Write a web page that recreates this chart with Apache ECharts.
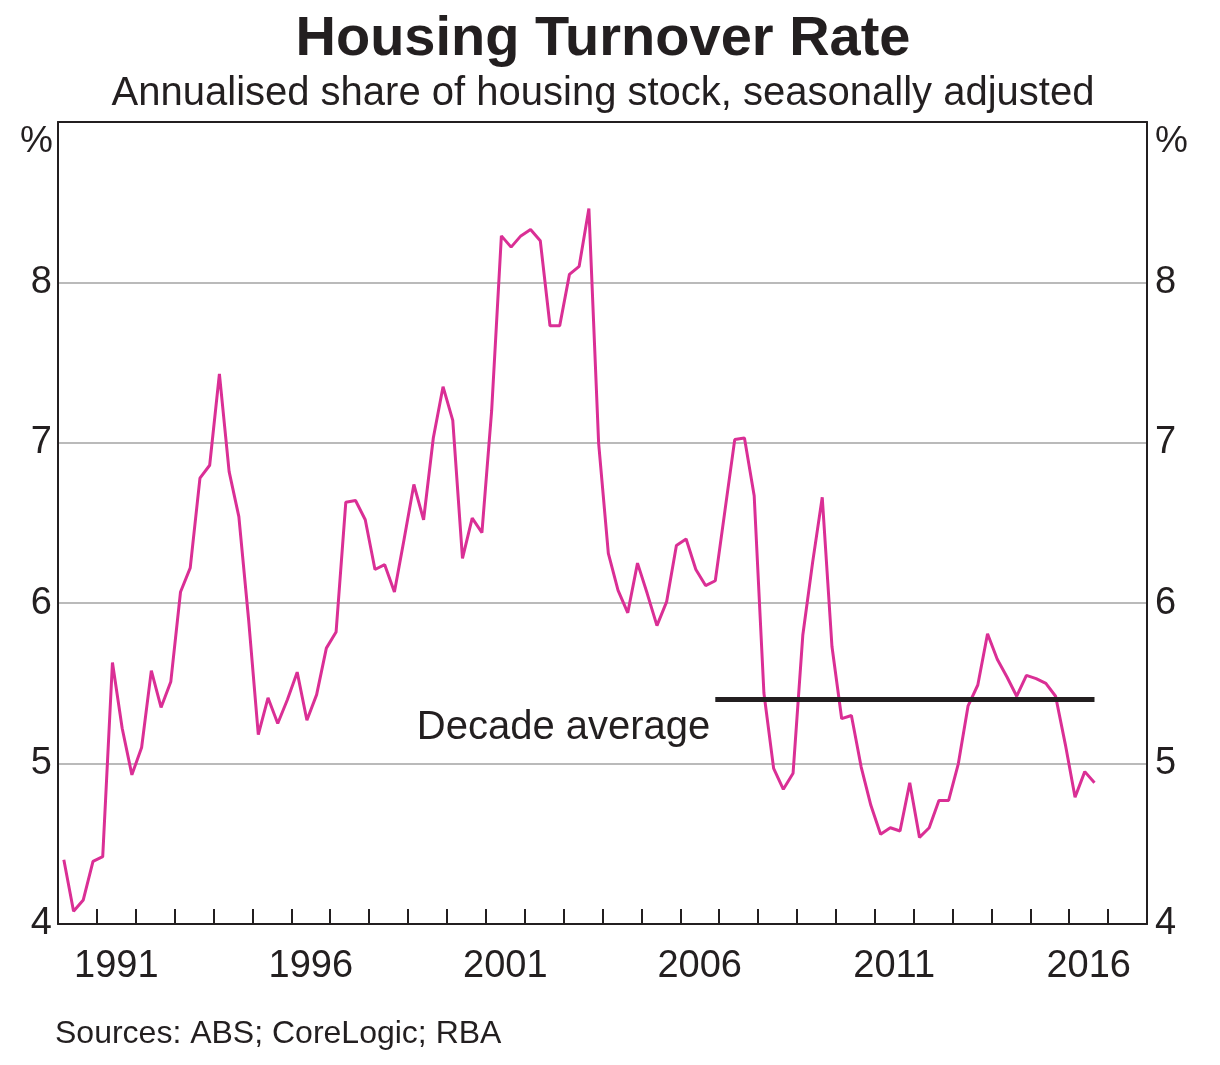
<!DOCTYPE html>
<html>
<head>
<meta charset="utf-8">
<script src="https://cdn.jsdelivr.net/npm/echarts@6/dist/echarts.min.js"></script>
<style>
html,body{margin:0;padding:0;background:#fff;}
#chart{width:1220px;height:1065px;}
</style>
</head>
<body>
<div id="chart"></div>
<script>
// ---- data ----
const startYear = 1990; // first observation: 1990 Q1, quarterly
const turnover = [
  4.40, 4.08, 4.15, 4.39,
  4.42, 5.63, 5.22, 4.93,
  5.10, 5.58, 5.35, 5.51,
  6.07, 6.22, 6.78, 6.86,
  7.43, 6.82, 6.54, 5.90,
  5.18, 5.41, 5.25, 5.40,
  5.57, 5.27, 5.43, 5.72,
  5.82, 6.63, 6.64, 6.52,
  6.21, 6.24, 6.07, 6.40,
  6.74, 6.52, 7.03, 7.35,
  7.14, 6.28, 6.53, 6.44,
  7.20, 8.29, 8.22, 8.29,
  8.33, 8.26, 7.73, 7.73,
  8.05, 8.10, 8.46, 7.00,
  6.31, 6.08, 5.94, 6.25,
  6.06, 5.86, 6.01, 6.36,
  6.40, 6.21, 6.11, 6.14,
  6.58, 7.02, 7.03, 6.67,
  5.44, 4.97, 4.84, 4.94,
  5.80, 6.25, 6.66, 5.73,
  5.28, 5.30, 4.98, 4.74,
  4.56, 4.60, 4.58, 4.88,
  4.54, 4.60, 4.77, 4.77,
  5.00, 5.36, 5.49, 5.81,
  5.65, 5.54, 5.42, 5.55,
  5.53, 5.50, 5.42, 5.12,
  4.79, 4.95, 4.88
];
const decadeAvgValue = 5.4;
const decadeAvgStart = [2006, 4]; // year, quarter
const decadeAvgEnd = [2016, 3];
const decadeAvgLabel = 'Decade average';
const yearCategories = [];
for (let y = 1990; y <= 2017; y++) yearCategories.push(String(y));
const yearLabels = ['1991', '1996', '2001', '2006', '2011', '2016'];
const yTicks = [4, 5, 6, 7, 8];

// ---- helpers ----
function qPos(year, q) { return year + q * 0.25 - 0.1; }
const lineData = turnover.map((v, i) => [qPos(startYear + Math.floor(i / 4), (i % 4) + 1), v]);
const avgData = [
  [qPos(decadeAvgStart[0], decadeAvgStart[1]), decadeAvgValue],
  [qPos(decadeAvgEnd[0], decadeAvgEnd[1]), decadeAvgValue]
];

const FONT = 'Liberation Sans, Arial, sans-serif';
const INK = '#231f20';

const chart = echarts.init(document.getElementById('chart'), null, {renderer: 'canvas'});
chart.setOption({
  backgroundColor: '#ffffff',
  animation: false,
  title: [
    {text: 'Sources: ABS; CoreLogic; RBA', left: 50, top: 1013,
     textStyle: {fontFamily: FONT, fontSize: 32, fontWeight: 'normal', color: INK}}
  ],
  graphic: [
    {type: 'text', x: 603, y: 12, style: {text: 'Housing Turnover Rate', font: 'bold 56px ' + FONT,
      fill: INK, textAlign: 'center', textVerticalAlign: 'top'}},
    {type: 'text', x: 603, y: 74, style: {text: 'Annualised share of housing stock, seasonally adjusted',
      font: '40px ' + FONT, fill: INK, textAlign: 'center', textVerticalAlign: 'top'}},
    {type: 'text', x: 53, y: 123, style: {text: '%', font: '37px ' + FONT, fill: INK,
      textAlign: 'right', textVerticalAlign: 'top'}},
    {type: 'text', x: 1155, y: 123, style: {text: '%', font: '37px ' + FONT, fill: INK,
      textAlign: 'left', textVerticalAlign: 'top'}}
  ],
  grid: {left: 58, right: 73, top: 122, bottom: 141, containLabel: false},
  xAxis: [
    {type: 'category', data: yearCategories, position: 'bottom', boundaryGap: true,
     axisLine: {show: true, lineStyle: {color: INK, width: 2}},
     axisTick: {show: true, inside: true, length: 15, interval: 0, alignWithLabel: false,
                lineStyle: {color: INK, width: 2}},
     axisLabel: {interval: 0, margin: 24, color: INK, fontSize: 38, fontFamily: FONT,
                 formatter: v => yearLabels.indexOf(v) >= 0 ? v : ''},
     splitLine: {show: false}},
    {type: 'value', min: 1990, max: 2018, position: 'top',
     axisLine: {show: true, onZero: false, lineStyle: {color: INK, width: 2}},
     axisTick: {show: false}, axisLabel: {show: false}, splitLine: {show: false}}
  ],
  yAxis: [
    {type: 'value', min: 4, max: 9, interval: 1, position: 'left',
     axisLine: {show: true, lineStyle: {color: INK, width: 2}},
     axisTick: {show: false},
     axisLabel: {margin: 6, color: INK, fontSize: 38, fontFamily: FONT, padding: [6, 0, 0, 0],
                 formatter: v => yTicks.indexOf(v) >= 0 ? String(v) : ''},
     splitLine: {show: true, lineStyle: {color: '#a3a3a3', width: 1.5}}},
    {type: 'value', min: 4, max: 9, interval: 1, position: 'right',
     axisLine: {show: true, lineStyle: {color: INK, width: 2}},
     axisTick: {show: false},
     axisLabel: {margin: 8, color: INK, fontSize: 38, fontFamily: FONT, padding: [6, 0, 0, 0],
                 formatter: v => yTicks.indexOf(v) >= 0 ? String(v) : ''},
     splitLine: {show: false}}
  ],
  series: [
    {type: 'line', xAxisIndex: 1, yAxisIndex: 0, data: lineData, symbol: 'none',
     lineStyle: {color: '#da2f95', width: 3}, z: 3},
    {type: 'line', xAxisIndex: 1, yAxisIndex: 0, data: avgData, symbol: 'none',
     lineStyle: {color: INK, width: 5}, z: 4},
    {type: 'scatter', xAxisIndex: 1, yAxisIndex: 0, data: [avgData[0]],
     symbolSize: 0, itemStyle: {color: INK, opacity: 1}, silent: true, z: 5,
     label: {show: true, formatter: decadeAvgLabel, position: 'left', distance: 5, offset: [0, 29],
             color: INK, opacity: 1, fontSize: 40, fontFamily: FONT}}
  ]
});
</script>
</body>
</html>
